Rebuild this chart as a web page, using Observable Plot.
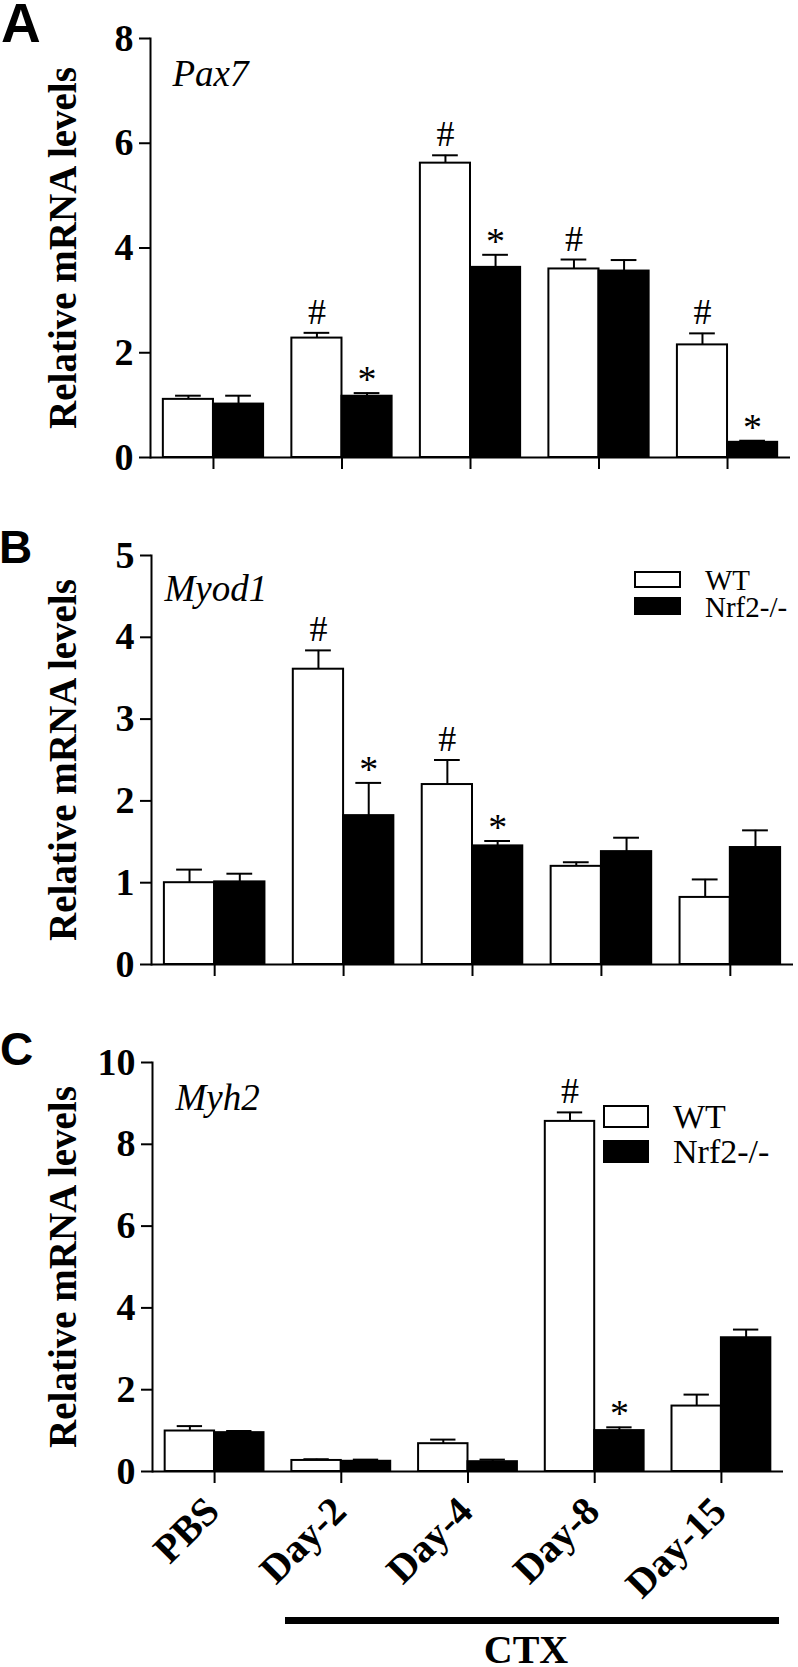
<!DOCTYPE html>
<html><head><meta charset="utf-8">
<script src="https://cdn.jsdelivr.net/npm/d3@7"></script>
<script src="https://cdn.jsdelivr.net/npm/@observablehq/plot@0.6"></script>
<style>
html,body{margin:0;padding:0;background:#fff;overflow:hidden;}
#root{position:relative;width:798px;height:1667px;overflow:hidden;background:#fff;}
.panel{position:absolute;left:0;}
#overlay{position:absolute;left:0;top:0;pointer-events:none;}
</style></head>
<body><div id="root"></div>
<script>
// ---- data ----
const categories = ["PBS", "Day-2", "Day-4", "Day-8", "Day-15"];
const groups = ["WT", "Nrf2-/-"];

const pax7WT     = [1.11, 2.28, 5.62, 3.60, 2.15];
const pax7WTErr  = [0.07, 0.10, 0.15, 0.18, 0.22];
const pax7KO     = [1.02, 1.17, 3.63, 3.56, 0.29];
const pax7KOErr  = [0.16, 0.06, 0.24, 0.21, 0.03];
const pax7WTSig  = ["", "#", "#", "#", "#"];
const pax7KOSig  = ["", "*", "*", "", "*"];

const myod1WT    = [1.00, 3.61, 2.20, 1.20, 0.82];
const myod1WTErr = [0.16, 0.23, 0.30, 0.05, 0.22];
const myod1KO    = [1.01, 1.82, 1.45, 1.38, 1.43];
const myod1KOErr = [0.10, 0.40, 0.06, 0.17, 0.21];
const myod1WTSig = ["", "#", "#", "", ""];
const myod1KOSig = ["", "*", "*", "", ""];

const myh2WT     = [0.99, 0.27, 0.68, 8.56, 1.60];
const myh2WTErr  = [0.12, 0.03, 0.10, 0.22, 0.28];
const myh2KO     = [0.95, 0.25, 0.24, 1.00, 3.27];
const myh2KOErr  = [0.04, 0.04, 0.05, 0.08, 0.20];
const myh2WTSig  = ["", "", "", "#", ""];
const myh2KOSig  = ["", "", "", "*", ""];

const pax7Ticks  = [0, 2, 4, 6, 8];
const myod1Ticks = [0, 1, 2, 3, 4, 5];
const myh2Ticks  = [0, 2, 4, 6, 8, 10];

const yLabel = "Relative mRNA levels";
const treatmentLabel = "CTX";

// ---- drawing ----
const SERIF = "Liberation Serif";
const SANS = "Liberation Sans";
const root = document.getElementById("root");

function makePanel(cfg) {
  const rows = [];
  categories.forEach((c, i) => {
    rows.push({cat: c, i, group: groups[0], value: cfg.wt[i], err: cfg.wtErr[i], sig: cfg.wtSig[i]});
    rows.push({cat: c, i, group: groups[1], value: cfg.ko[i], err: cfg.koErr[i], sig: cfg.koSig[i]});
  });
  const half = 0.39;
  const x1 = d => d.group === groups[0] ? d.i - half : d.i;
  const x2 = d => d.group === groups[0] ? d.i : d.i + half;
  const xc = d => (x1(d) + x2(d)) / 2;
  const up = d => d.value + d.err;
  const capHalf = 0.1;
  const catIdx = categories.map((c, i) => i);

  const marks = [
    Plot.ruleX(rows, {x: xc, y1: "value", y2: up, stroke: "black", strokeWidth: 2}),
    Plot.ruleY(rows, {y: up, x1: d => xc(d) - capHalf, x2: d => xc(d) + capHalf, stroke: "black", strokeWidth: 2}),
    Plot.rect(rows, {x1, x2, y1: d => 0, y2: "value", fill: "group", stroke: "black", strokeWidth: 2}),
    Plot.frame({anchor: "left", stroke: "black", strokeWidth: 2}),
    Plot.ruleY([0], {stroke: "black", strokeWidth: 2}),
    Plot.axisY({ticks: cfg.ticks, tickFormat: d => String(d), tickSize: 11, tickPadding: 6,
      fontSize: 38, fontWeight: "bold", fontFamily: SERIF, strokeWidth: 2, label: null}),
    Plot.axisX({ticks: catIdx, tickSize: 12, strokeWidth: 2, label: null, tickFormat: () => ""}),
    Plot.text(rows.filter(d => d.sig === "#"), {x: xc, y: up, text: "sig", lineAnchor: "bottom", dy: -9,
      fontSize: 36, fontFamily: SERIF, fill: "black"}),
    Plot.text(rows.filter(d => d.sig === "*"), {x: xc, y: up, text: "sig", lineAnchor: "bottom", dy: -1,
      fontSize: 38, fontFamily: SERIF, fill: "black"}),
    Plot.text([cfg.gene], {text: d => d, frameAnchor: "top-left", dx: cfg.geneDx, dy: cfg.geneDy,
      textAnchor: "start", lineAnchor: "bottom", fontStyle: "italic", fontSize: 37, fontFamily: SERIF, fill: "black"}),
    Plot.text([yLabel], {text: d => d, frameAnchor: "left", dx: 75 - cfg.ml, rotate: -90,
      textAnchor: "middle", lineAnchor: "bottom", fontWeight: "bold", fontSize: 39, fontFamily: SERIF, fill: "black"})
  ];
  if (cfg.showX) {
    marks.push(Plot.text(catIdx, {x: i => i, text: i => categories[i], frameAnchor: "bottom",
      dx: 7, dy: 42, rotate: -45, textAnchor: "end", lineAnchor: "bottom",
      fontSize: 40, fontWeight: "bold", fontFamily: SERIF, fill: "black"}));
  }

  const plot = Plot.plot({
    width: 798,
    height: cfg.height,
    marginTop: cfg.mt,
    marginBottom: cfg.mb,
    marginLeft: cfg.ml,
    marginRight: cfg.mr,
    style: {fontFamily: SERIF, background: "transparent", overflow: "visible", color: "black"},
    x: {domain: [-0.49, 4.49]},
    y: {domain: [0, cfg.ticks[cfg.ticks.length - 1]]},
    color: {domain: groups, range: ["white", "black"]},
    marks
  });
  plot.classList.add("panel");
  plot.style.top = cfg.top + "px";
  plot.style.position = "absolute";
  root.appendChild(plot);
}

makePanel({wt: pax7WT, wtErr: pax7WTErr, ko: pax7KO, koErr: pax7KOErr, wtSig: pax7WTSig, koSig: pax7KOSig,
  ticks: pax7Ticks, gene: "Pax7", top: 0, height: 480, mt: 38, mb: 23, ml: 150, mr: 8,
  geneDx: 22, geneDy: 47, showX: false});
makePanel({wt: myod1WT, wtErr: myod1WTErr, ko: myod1KO, koErr: myod1KOErr, wtSig: myod1WTSig, koSig: myod1KOSig,
  ticks: myod1Ticks, gene: "Myod1", top: 480, height: 510, mt: 75, mb: 26, ml: 151, mr: 5,
  geneDx: 13, geneDy: 45, showX: false});
makePanel({wt: myh2WT, wtErr: myh2WTErr, ko: myh2KO, koErr: myh2KOErr, wtSig: myh2WTSig, koSig: myh2KOSig,
  ticks: myh2Ticks, gene: "Myh2", top: 990, height: 677, mt: 72, mb: 196, ml: 152, mr: 15,
  geneDx: 23, geneDy: 47, showX: true});

// ---- overlay: panel letters, legends, treatment bar ----
const ns = "http://www.w3.org/2000/svg";
const ov = document.createElementNS(ns, "svg");
ov.setAttribute("id", "overlay");
ov.setAttribute("width", 798); ov.setAttribute("height", 1667);
function el(tag, attrs, txt) {
  const e = document.createElementNS(ns, tag);
  for (const k in attrs) e.setAttribute(k, attrs[k]);
  if (txt != null) e.textContent = txt;
  ov.appendChild(e);
  return e;
}
el("text", {x: 1, y: 42, "font-family": SANS, "font-weight": "bold", "font-size": 55}, "A");
el("text", {x: -1, y: 563, "font-family": SANS, "font-weight": "bold", "font-size": 46}, "B");
el("text", {x: 0, y: 1065, "font-family": SANS, "font-weight": "bold", "font-size": 46}, "C");

// legend B
el("rect", {x: 635, y: 572, width: 45, height: 15, fill: "white", stroke: "black", "stroke-width": 2});
el("rect", {x: 634, y: 597, width: 47, height: 18, fill: "black"});
el("text", {x: 705, y: 590, "font-family": SERIF, "font-size": 29}, groups[0]);
el("text", {x: 705, y: 617, "font-family": SERIF, "font-size": 29}, groups[1]);
// legend C
el("rect", {x: 604, y: 1106, width: 44, height: 21, fill: "white", stroke: "black", "stroke-width": 2});
el("rect", {x: 603, y: 1140, width: 46, height: 23, fill: "black"});
el("text", {x: 673, y: 1128, "font-family": SERIF, "font-size": 34}, groups[0]);
el("text", {x: 673, y: 1163, "font-family": SERIF, "font-size": 34}, groups[1]);
// treatment bar
el("rect", {x: 285, y: 1617, width: 494, height: 7, fill: "black"});
el("text", {x: 526, y: 1663, "text-anchor": "middle", "font-family": SERIF, "font-weight": "bold", "font-size": 40}, treatmentLabel);
root.appendChild(ov);
</script>
</body></html>
